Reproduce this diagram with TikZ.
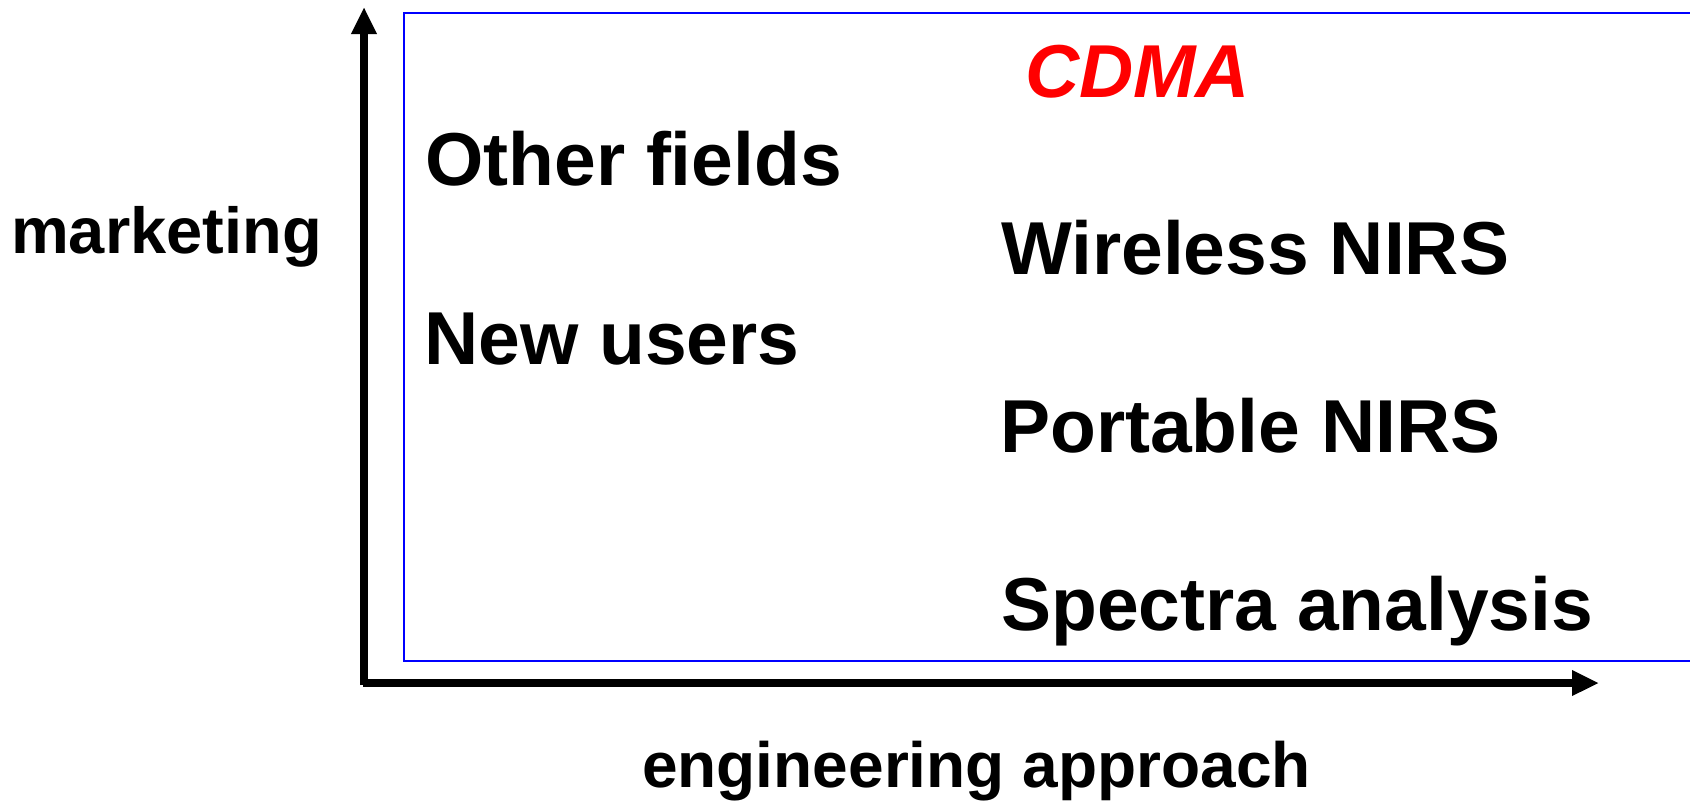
\documentclass[tikz,border=0pt]{standalone}
\usepackage{fontspec}
\setmainfont{Liberation Sans}
\usetikzlibrary{arrows.meta}
\begin{document}
\begin{tikzpicture}[x=1pt,y=-1pt,
  axis/.style={line width=8pt,-{Triangle[length=27pt,width=24pt]}},
  frame/.style={draw=blue,line width=2pt},
  item/.style={anchor=base west,inner sep=0pt,font=\fontsize{75}{80}\selectfont\bfseries},
  axlabel/.style={anchor=base west,inner sep=0pt,font=\fontsize{64}{70}\selectfont\bfseries}]
  \useasboundingbox (0,0) rectangle (1690,803);
  % open frame running off the right edge
  \draw[frame] (1692,13) -- (404,13) -- (404,661) -- (1692,661);
  % axes
  \coordinate (origin) at (364,685);
  \coordinate (ytip) at (364,7);
  \coordinate (xstart) at (363,683);
  \coordinate (xtip) at (1599,683);
  \draw[axis] (origin) -- (ytip);
  \draw[axis] (xstart) -- (xtip);
  % labels
  \node[item,text=red,font=\fontsize{75}{80}\selectfont\bfseries\itshape] (cdma) at (1025,97) {CDMA};
  \node[item] (other) at (425,185) {Other fields};
  \node[item] (wireless) at (1001,274) {Wireless NIRS};
  \node[item] (newusers) at (424,364) {New users};
  \node[item] (portable) at (1000,452) {Portable NIRS};
  \node[item] (spectra) at (1001,630) {Spectra analysis};
  \node[axlabel,font=\fontsize{65}{70}\selectfont\bfseries] (marketing) at (11,253) {marketing};
  \node[axlabel] (engineering) at (642,787) {engineering approach};
\end{tikzpicture}
\end{document}
